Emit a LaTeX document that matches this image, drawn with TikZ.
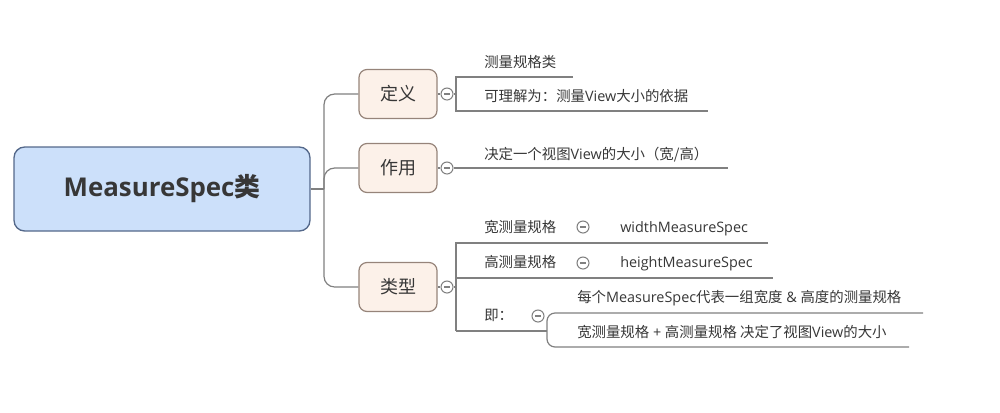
\documentclass[tikz,border=0pt]{standalone}
\usepackage{fontspec}
\setmainfont{Noto Sans CJK SC}
\newfontfamily\latin{Open Sans}
\definecolor{rootfill}{RGB}{204,224,250}
\definecolor{rootline}{RGB}{84,104,138}
\definecolor{topicfill}{RGB}{252,241,233}
\definecolor{topicline}{RGB}{150,132,122}
\definecolor{branchgray}{RGB}{128,128,128}
\definecolor{inkgray}{RGB}{55,55,55}
\tikzset{
rootbox/.style={draw=rootline, fill=rootfill, line width=1pt, rounded corners=8pt,
    minimum width=222pt, minimum height=63pt, text=inkgray,
    font=\fontsize{19.4}{21}\selectfont\bfseries},
topicbox/.style={draw=topicline, fill=topicfill, line width=0.9pt, rounded corners=6pt,
    minimum width=58.5pt, minimum height=36.75pt, text=inkgray,
    font=\fontsize{13.5}{15}\selectfont},
leaf/.style={anchor=west, inner sep=0pt, text height=.85em, text depth=.15em,
    text=inkgray, font=\fontsize{10.8}{12}\selectfont},
branch/.style={draw=branchgray, line width=0.9pt},
fold/.style={circle, draw=branchgray, fill=white, line width=0.8pt, minimum size=9pt, inner sep=0pt,
    path picture={\draw[branchgray, line width=0.8pt] ([xshift=2.2pt]path picture bounding box.west) -- ([xshift=-2.2pt]path picture bounding box.east);}}
}

\begin{document}
\begin{tikzpicture}[x=0.75pt, y=-0.75pt]
    \useasboundingbox (0,0) rectangle (1000,412);

                % root and main topics
                \node[rootbox] (root) at (162,189) {{\latin MeasureSpec}类};
                \node[topicbox] (def) at (398,94) {定义};
                \node[topicbox] (use) at (398,168) {作用};
                \node[topicbox] (kind) at (398,287) {类型};

                \coordinate (trunk) at (324,189);
                \draw[branch] (root.east) -- (trunk);
                \draw[branch, rounded corners=8pt] (trunk) |- (def.west);
                \draw[branch, rounded corners=8pt] (trunk) |- (use.west);
                \draw[branch, rounded corners=8pt] (trunk) |- (kind.west);

                \node[fold] (deffold) at (447,94) {};
                \node[fold] (usefold) at (447,168) {};
                \node[fold] (kindfold) at (447,287) {};
                \draw[branch] (def.east) -- (deffold.west);
                \draw[branch] (use.east) -- (usefold.west);
                \draw[branch] (kind.east) -- (kindfold.west);

                % definition
                \node[leaf] (d1) at (484,63) {测量规格类};
                \node[leaf] (d2) at (484,97) {可理解为：测量{\latin View}大小的依据};
                \coordinate (dmid) at (456,94);
                \coordinate (dtop) at (456,77);
                \coordinate (dbot) at (456,111);
                \coordinate (d1end) at (573,77);
                \coordinate (d2end) at (708,111);
                \draw[branch] (deffold.east) -- (dmid);
                \draw[branch] (d1end) -- (dtop) -- (dbot) -- (d2end);

                % purpose
                \node[leaf] (z1) at (484,155) {决定一个视图{\latin View}的大小（宽/高）};
                \coordinate (z1end) at (728,168);
                \draw[branch] (usefold.east) -- (z1end);

                % kinds
                \node[leaf] (k1) at (484,228) {宽测量规格};
                \node[leaf] (k2) at (484,263) {高测量规格};
                \node[leaf] (k3) at (484,316) {即：};
                \node[leaf] (k1c) at (620,228) {\latin widthMeasureSpec};
                \node[leaf] (k2c) at (620,263) {\latin heightMeasureSpec};
                \node[fold] (k1fold) at (583,227) {};
                \node[fold] (k2fold) at (583,263) {};
                \node[fold] (k3fold) at (538,316) {};

                \coordinate (kmid) at (456,287);
                \coordinate (ktop) at (456,243);
                \coordinate (kmidb) at (456,278);
                \coordinate (kbot) at (456,331);
                \coordinate (k1end) at (768,243);
                \coordinate (k2end) at (773,278);
                \draw[branch] (kindfold.east) -- (kmid);
                \draw[branch] (k1end) -- (ktop) -- (kbot);
                \draw[branch] (kmidb) -- (k2end);

                % sub topics of "ji"
                \node[leaf] (k3a) at (577,298) {每个{\latin MeasureSpec}代表一组宽度{\latin\ \&\ }高度的测量规格};
                \node[leaf] (k3b) at (577,333) {宽测量规格{\latin\ +\ }高测量规格 决定了视图{\latin View}的大小};
                \coordinate (jmid) at (547,331);
                \coordinate (jtop) at (547,313);
                \coordinate (jbot) at (547,347);
                \coordinate (k3aend) at (923,313);
                \coordinate (k3bend) at (909,347);
                \draw[branch] (kbot) -- (jmid);
                \draw[branch, rounded corners=6pt] (k3aend) -- (jtop) -- (jbot) -- (k3bend);

            \end{tikzpicture}
\end{document}
